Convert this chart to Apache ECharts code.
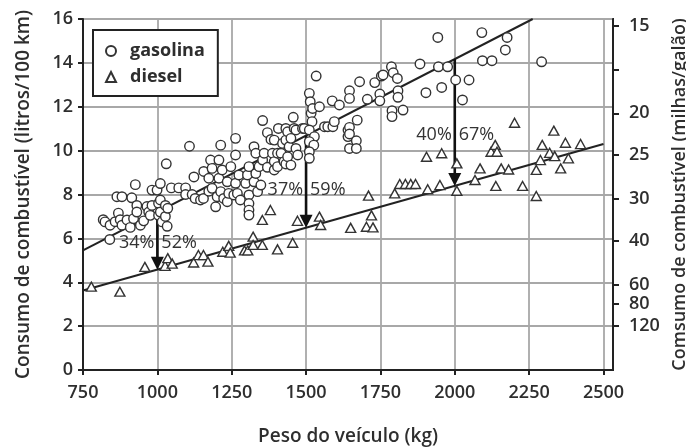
<!DOCTYPE html>
<html>
<head>
<meta charset="utf-8">
<script src="https://cdn.jsdelivr.net/npm/echarts@6/dist/echarts.min.js"></script>
<style>
  html, body { margin: 0; padding: 0; background: #fff; }
  #chart { width: 686px; height: 448px; }
</style>
</head>
<body>
<div id="chart"></div>
<script>
// Vehicle weight (kg) vs. fuel consumption (L/100 km), gasoline and diesel cars
const gasolina = [
  [818, 6.85], [824, 6.75], [840, 5.95], [841, 6.6], [858, 6.76], [864, 7.9], [869, 7.15],
  [875, 6.85], [881, 7.9], [881, 6.6], [898, 6.84], [909, 6.5], [914, 7.85], [920, 6.9],
  [926, 8.45], [931, 7.5], [931, 7.2], [943, 6.6], [954, 6.8], [965, 7.45], [971, 7.2],
  [976, 7.05], [982, 8.2], [982, 7.5], [999, 8.2], [1004, 7.6], [1004, 7.05], [1010, 8.5],
  [1010, 7.75], [1010, 7.2], [1016, 6.75], [1027, 7.5], [1027, 7.0], [1030, 9.4], [1033, 6.55],
  [1035, 7.37], [1047, 8.3], [1072, 8.3], [1095, 8.3], [1095, 8.0], [1108, 10.2], [1117, 8.0],
  [1123, 8.8], [1127, 7.82], [1145, 7.75], [1155, 7.82], [1156, 9.05], [1173, 8.15],
  [1173, 8.74], [1179, 9.57], [1184, 9.19], [1184, 8.28], [1196, 7.44], [1201, 7.9],
  [1207, 9.57], [1207, 8.74], [1213, 10.25], [1213, 8.13], [1218, 9.12], [1223, 7.82],
  [1235, 8.58], [1235, 7.67], [1240, 8.05], [1247, 9.27], [1257, 7.98], [1263, 10.56],
  [1263, 9.8], [1263, 8.51], [1269, 8.05], [1274, 8.89], [1279, 7.75], [1297, 8.51],
  [1303, 8.89], [1308, 9.27], [1308, 7.98], [1308, 7.59], [1308, 7.29], [1308, 7.06],
  [1325, 10.18], [1325, 8.58], [1331, 9.88], [1331, 8.96], [1337, 8.13], [1342, 9.27],
  [1348, 8.43], [1354, 11.37], [1354, 9.57], [1359, 9.88], [1370, 10.82], [1370, 9.24],
  [1382, 10.51], [1387, 9.88], [1393, 10.48], [1393, 9.5], [1393, 9.12], [1404, 9.27],
  [1404, 9.88], [1407, 11.01], [1416, 9.88], [1421, 10.33], [1426, 9.5], [1432, 11.01],
  [1432, 10.48], [1432, 9.39], [1438, 10.86], [1438, 9.72], [1443, 10.18], [1449, 10.56],
  [1449, 9.34], [1457, 11.52], [1460, 11.01], [1466, 10.94], [1466, 10.1], [1472, 9.8],
  [1488, 11.01], [1494, 11.01], [1511, 12.61], [1514, 12.23], [1517, 11.7], [1520, 11.32],
  [1522, 11.92], [1511, 10.94], [1528, 10.64], [1511, 10.41], [1526, 10.25], [1511, 9.95],
  [1511, 9.65], [1534, 13.4], [1545, 12.0], [1562, 11.09], [1573, 11.09], [1590, 11.09],
  [1595, 11.32], [1588, 12.27], [1612, 12.08], [1641, 10.94], [1641, 10.64], [1646, 12.73],
  [1646, 12.38], [1646, 11.06], [1646, 10.76], [1646, 10.1], [1669, 10.45], [1669, 10.1],
  [1672, 11.39], [1680, 13.14], [1706, 12.34], [1731, 13.1], [1748, 12.58], [1748, 12.27],
  [1753, 13.4], [1759, 13.45], [1787, 13.82], [1793, 13.55], [1807, 13.29], [1809, 12.73],
  [1809, 12.43], [1789, 11.82], [1789, 11.55], [1826, 11.85], [1883, 13.95], [1903, 12.64],
  [1943, 15.16], [1945, 13.82], [1956, 12.88], [1976, 13.82], [2003, 13.22], [2026, 12.31],
  [2048, 13.22], [2091, 15.38], [2093, 14.1], [2125, 14.1], [2170, 14.59], [2176, 15.16],
  [2292, 14.05]
];

const diesel = [
  [778, 3.8], [874, 3.57], [958, 4.7], [1026, 4.75], [1035, 5.1], [1050, 4.85], [1122, 4.9],
  [1138, 5.24], [1155, 5.24], [1170, 4.94], [1220, 5.39], [1240, 5.66], [1245, 5.35],
  [1293, 5.45], [1304, 5.45], [1322, 6.08], [1322, 5.7], [1353, 5.7], [1353, 6.84],
  [1380, 7.29], [1404, 5.5], [1455, 5.8], [1471, 6.8], [1545, 6.99], [1549, 6.61],
  [1650, 6.48], [1703, 6.53], [1710, 7.95], [1720, 7.05], [1725, 6.5], [1798, 8.05],
  [1815, 8.48], [1834, 8.48], [1852, 8.48], [1868, 8.48], [1905, 9.72], [1909, 8.24],
  [1950, 8.43], [1956, 9.88], [2007, 9.42], [2007, 8.17], [2068, 8.66], [2085, 9.19],
  [2122, 9.95], [2136, 10.26], [2142, 9.95], [2138, 8.39], [2156, 9.19], [2181, 9.14],
  [2201, 11.27], [2228, 8.39], [2274, 9.12], [2274, 7.93], [2288, 9.57], [2294, 10.26],
  [2319, 9.9], [2333, 10.91], [2336, 9.75], [2356, 9.19], [2372, 10.36], [2382, 9.65],
  [2423, 10.3]
];

// Fitted trend lines (end points)
const gasolinaTrend = [[750, 5.45], [2262, 16]];
const dieselTrend = [[750, 3.62], [2500, 10.3]];

// Comparison arrows: weight, savings in L/100 km and in mpg, text height
const arrowWeights = [1000, 1500, 2000];
const savingLitres = ['34%', '37%', '40%'];
const savingMpg = ['52%', '59%', '67%'];
const savingTextY = [5.8, 8.2, 10.7];

// Right-hand axis: miles per gallon marks placed on the L/100 km scale
const mpgTickPos = [15.7, 13.7, 11.7, 9.8, 7.8, 5.9, 3.9, 3.0, 2.0];
const mpgTickText = ['15', '', '20', '25', '30', '40', '60', '80', '120'];

const FONT = '"Open Sans", "Liberation Sans", sans-serif';
const INK = '#222';
const TEXT = '#2e2e2e';
const GRID = '#a8a8a8';

function trendAt(line, x) {
  const [a, b] = line;
  return a[1] + (b[1] - a[1]) * (x - a[0]) / (b[0] - a[0]);
}

const arrowData = arrowWeights.map((kg, i) => [kg, trendAt(gasolinaTrend, kg), trendAt(dieselTrend, kg), savingTextY[i]]);

const labelFont = { fontFamily: FONT, fontSize: 18, fontWeight: 600, color: TEXT };
const titleFont = { fontFamily: FONT, fontSize: 19, fontWeight: 600, color: TEXT };

const chart = echarts.init(document.getElementById('chart'), null, { renderer: 'canvas' });

chart.setOption({
  backgroundColor: '#fff',
  animation: false,
  textStyle: { fontFamily: FONT },
  grid: {
    left: 83, right: 73, top: 19, bottom: 78,
    outerBoundsMode: 'none',
    containLabel: false,
    show: true, borderColor: INK, borderWidth: 2, backgroundColor: 'transparent'
  },
  legend: {
    data: ['gasolina', 'diesel'],
    orient: 'vertical',
    left: 93, top: 30,
    padding: [12, 13, 10, 12],
    itemGap: 8,
    itemWidth: 10, itemHeight: 10,
    borderColor: INK, borderWidth: 2,
    backgroundColor: '#fff',
    textStyle: { fontFamily: FONT, fontSize: 18, fontWeight: 'bold', color: TEXT, padding: [0, 0, 0, 9] }
  },
  xAxis: {
    type: 'value',
    min: 750, max: 2532, interval: 250,
    name: 'Peso do veículo (kg)',
    nameLocation: 'middle', nameGap: 57,
    nameTextStyle: titleFont,
    axisLine: { show: true, lineStyle: { color: INK, width: 2 } },
    axisTick: { show: true, length: 5, lineStyle: { color: INK, width: 2 } },
    axisLabel: Object.assign({ showMaxLabel: false, margin: 14, formatter: (v) => String(v) }, labelFont),
    splitLine: { show: true, lineStyle: { color: GRID, width: 1.8 } }
  },
  yAxis: [
    {
      type: 'value',
      min: 0, max: 16, interval: 2,
      name: 'Consumo de combustível (litros/100 km)',
      nameLocation: 'middle', nameGap: 50,
      nameTextStyle: titleFont,
      axisLine: { show: true, lineStyle: { color: INK, width: 2 } },
      axisTick: { show: true, length: 5, lineStyle: { color: INK, width: 2 } },
      axisLabel: Object.assign({ margin: 10 }, labelFont),
      splitLine: { show: true, lineStyle: { color: GRID, width: 1.8 } }
    },
    {
      type: 'value',
      min: 0, max: 16,
      position: 'right',
      name: 'Comsumo de combustível (milhas/galão)',
      nameLocation: 'middle', nameGap: 53, nameRotate: 90,
      nameTextStyle: Object.assign({}, titleFont, { fontSize: 18 }),
      axisLine: { show: true, lineStyle: { color: INK, width: 2 } },
      axisTick: { show: true, length: 6, customValues: mpgTickPos, lineStyle: { color: INK, width: 2 } },
      axisLabel: Object.assign({
        margin: 16,
        customValues: mpgTickPos,
        formatter: (v) => {
          const i = mpgTickPos.findIndex(p => Math.abs(p - v) < 1e-6);
          return i >= 0 ? mpgTickText[i] : '';
        }
      }, labelFont),
      splitLine: { show: false }
    }
  ],
  series: [
    {
      name: 'trend-gasolina', type: 'line', data: gasolinaTrend,
      symbol: 'none', lineStyle: { color: INK, width: 2 }, z: 2, silent: true
    },
    {
      name: 'trend-diesel', type: 'line', data: dieselTrend,
      symbol: 'none', lineStyle: { color: INK, width: 2 }, z: 2, silent: true
    },
    {
      name: 'arrows', type: 'custom', data: arrowData, z: 3, silent: true,
      renderItem: (params, api) => {
        const top = api.coord([api.value(0), api.value(1)]);
        const tip = api.coord([api.value(0), api.value(2)]);
        const head = 13, half = 6.5;
        return {
          type: 'group',
          children: [
            { type: 'line', shape: { x1: top[0], y1: top[1], x2: tip[0], y2: tip[1] - head + 1 },
              style: { stroke: '#111', lineWidth: 2.6 } },
            { type: 'polygon', shape: { points: [[tip[0] - half, tip[1] - head], [tip[0] + half, tip[1] - head], [tip[0], tip[1]]] },
              style: { fill: '#111' } }
          ]
        };
      }
    },
    {
      name: 'gasolina', type: 'scatter', data: gasolina, z: 4,
      symbol: 'circle', symbolSize: 9.5,
      itemStyle: { color: '#fff', borderColor: '#333', borderWidth: 1.4, opacity: 1 }
    },
    {
      name: 'diesel', type: 'scatter', data: diesel, z: 4,
      symbol: 'triangle', symbolSize: [10, 9],
      itemStyle: { color: '#fff', borderColor: '#333', borderWidth: 1.4, opacity: 1 }
    },
    {
      name: 'savings', type: 'custom', data: arrowData, z: 5, silent: true,
      renderItem: (params, api) => {
        const i = params.dataIndex;
        const p = api.coord([api.value(0), api.value(3)]);
        const font = '18px ' + FONT;
        return {
          type: 'group',
          children: [
            { type: 'text', x: p[0] - 3, y: p[1],
              style: { text: savingLitres[i], align: 'right', verticalAlign: 'middle', font: font, fill: '#333' } },
            { type: 'text', x: p[0] + 4, y: p[1],
              style: { text: savingMpg[i], align: 'left', verticalAlign: 'middle', font: font, fill: '#333' } }
          ]
        };
      }
    }
  ]
});
</script>
</body>
</html>
